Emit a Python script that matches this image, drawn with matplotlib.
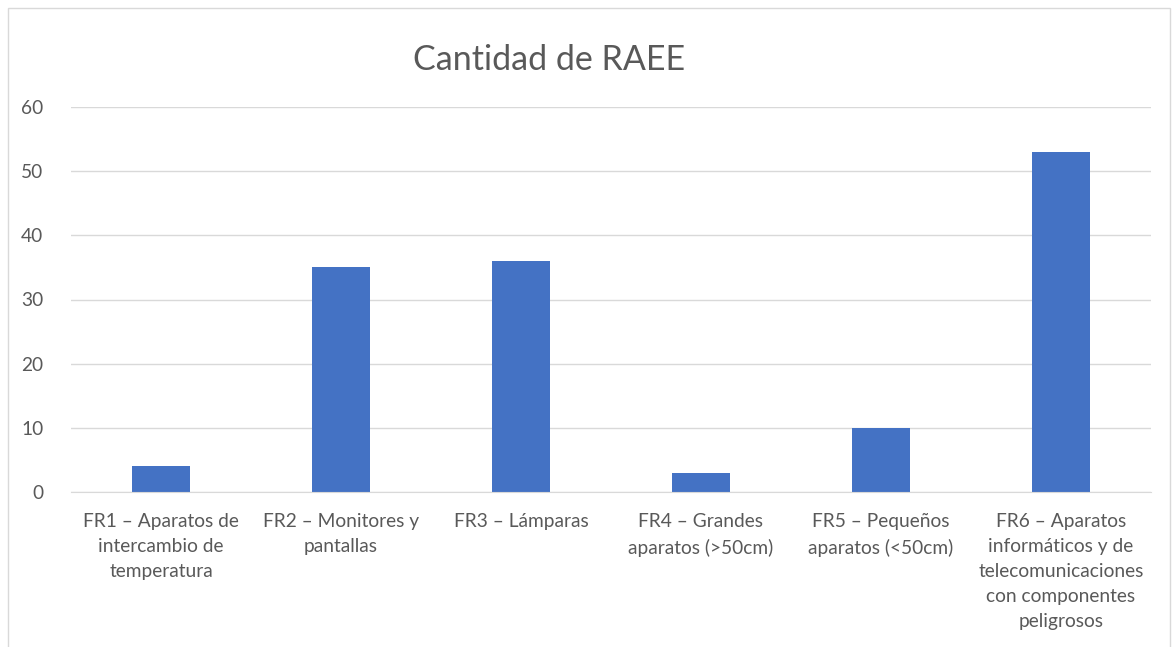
import matplotlib.pyplot as plt
from matplotlib.patches import Rectangle

# Datos
categorias = [
    "FR1 – Aparatos de\nintercambio de\ntemperatura",
    "FR2 – Monitores y\npantallas",
    "FR3 – Lámparas",
    "FR4 – Grandes\naparatos (>50cm)",
    "FR5 – Pequeños\naparatos (<50cm)",
    "FR6 – Aparatos\ninformáticos y de\ntelecomunicaciones\ncon componentes\npeligrosos",
]
cantidades = [4, 35, 36, 3, 10, 53]
y_ticks = [0, 10, 20, 30, 40, 50, 60]

plt.rcParams['font.family'] = ['Lato', 'DejaVu Sans']

fig = plt.figure(figsize=(11.73, 6.47), dpi=100)
ax = fig.add_axes([71 / 1173, 1 - 492 / 647, 1080 / 1173, 385 / 647])

x = range(len(categorias))
ax.bar(x, cantidades, width=0.317, color='#4472C4', zorder=3)

ax.set_xlim(-0.5, len(categorias) - 0.5)
ax.set_ylim(0, 60)
ax.set_yticks(y_ticks)
ax.set_xticks(list(x))
ax.set_xticklabels(categorias, fontsize=13.8, color='#595959', linespacing=1.58, va='top')
ax.tick_params(axis='y', labelsize=13.8, labelcolor='#595959', length=0, pad=20)
ax.tick_params(axis='x', length=0, pad=15)

ax.grid(axis='y', color='#D9D9D9', linewidth=1, zorder=0)
for s in ['top', 'right', 'left']:
    ax.spines[s].set_visible(False)
ax.spines['bottom'].set_color('#D9D9D9')
ax.spines['bottom'].set_zorder(4)

fig.text(549 / 1173, 1 - 60 / 647, "Cantidad de RAEE", fontsize=24.5, color='#595959',
         ha='center', va='center')

# borde del gráfico
fig.patches.append(Rectangle((8 / 1173, -0.1), 1162 / 1173, 1.1 - 8 / 647,
                             transform=fig.transFigure, fill=False,
                             edgecolor='#D9D9D9', linewidth=1))

fig.savefig('out.png', dpi=100)
